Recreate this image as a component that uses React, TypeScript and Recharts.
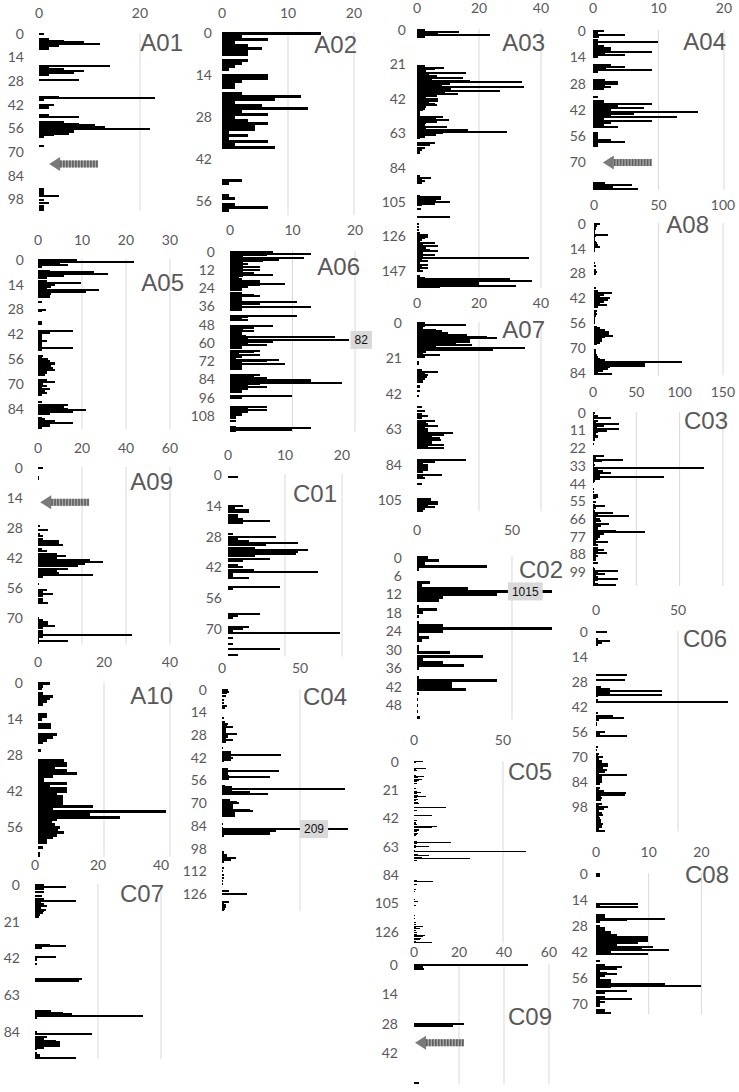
import React from "react";
import { BarChart, Bar, XAxis, YAxis, CartesianGrid, ReferenceDot } from "recharts";

// one value per row of each panel
const A01 = [1,0,0,2,5,9,12,4,2,2, 0,0,0,0,0,0,0,0,0,14, 2,5,9,7,2,0,0,8,0,0, 0,0,0,0,0,0,0,4,23,1, 0,0,3,2,2,0,0,0,2,8, 0,0,5,8,11,13,22,7,7,6, 3,1,0,0,0,0,1,0,0,0, 0,0,0,0,0,0,0,0,0,0, 0,0,0,0,0,0,0,0,0,0, 0,0,1,1,1,1,4,0,1,0, 2,0,1,1,1];
const A02 = [15,3,7,2,4,6,4,4,0,4, 3,2,1,0,7,7,3,2,2,0, 3,12,8,2,6,13,3,7,2,4, 7,5,5,1,4,1,7,2,8,0, 0,0,0,0,0,0,0,0,0,3, 1,0,0,0,1,2,0,2,7,1, 0];
const A03 = [2.6,13.7,6.9,23.5,2.6,0,0,0,0,0, 0,0,0,0,0,0,0,0,0,0, 0,0,2.6,8.7,5.8,3,15.8,4,6.3,14.7, 5,17,33.8,10.6,8,34.5,11,26.8,9,13.3, 6.3,3,6.9,6.9,4,5.8,6.3,3,2.6,2, 1,1,1,8.5,6,10.4,6.3,3,2.6,9.6, 3,16.6,28.9,8.5,6,2.6,1,0,0,5.8, 4.2,0,2.5,1.5,1,1,0,0,0,0, 0,0,0,0,0,0,0,0,0,1, 4.5,1.5,2.5,1.5,0,0,0,0,0,0, 0,1,7.6,7.6,6,10.6,5.8,1.5,0,1.2, 0,0,0,0,10.6,0,0,0,0.5,0, 0.5,0,0.5,0,1,3.7,3.7,2.6,1.5,1, 5.8,2,6.9,3,4.2,6.9,2,5.8,2,36, 1.5,3.7,1,3.7,1.5,3.7,1,2,0,0, 1,2.6,30,37,20,20,32,7.5];
const A04 = [1.7,0.8,4.9,0.9,0,0.8,9.9,0.8,1.7,2.8, 2.8,9,1.9,4.9,0.8,0,0,0,2.8,4.9, 2,9,0.8,0,0,0,1.8,3.8,3.8,1.8, 2.8,1.7,0,0,0,0.8,0,1.7,1.7,9, 3.8,7.8,2.8,16,6.3,2.8,12.9,1.7,9,2.8, 1.7,3.8,0,0,0.8,0.8,0.8,0.8,2.8,4.9, 0.8,0.8,0,0,0,0,0,0,0,0, 0,0,0,0,0,0,0,0,0,0, 0,1.8,5.9,3,6.8];
const A05 = [8.9,21.8,5,6.9,1,0,2.7,12.8,15.8,5.8, 2,0,2,9.8,3.9,3,2,13.9,10.9,3, 2.7,2.7,0,0,0.8,0,0,0,1.8,0.8, 0,0,0,0,0,0.8,0.8,0,0,0, 7.9,2.7,0.8,0.8,0.8,0.8,2,0.8,0.8,0.8, 7.9,0.8,0,0,1.2,0.8,2.3,2.7,3.9,3.9, 3,3.5,3.9,2,2,1.5,0,0,2,3.9, 1.2,2,1,2.7,1.5,2,1,0,0,0, 0.8,0,6.9,6,6.9,10.9,8,2.7,0,0.8, 1.5,3.9,7.9,2.7,2.7,1];
const A06 = [6.9,12.9,5.9,2,11.8,7.9,5.2,2,2.9,2, 4.8,2,4.8,2,3.8,6.8,2,1.5,1.9,4.8, 4.8,8.8,4.8,2.9,1.9,1.9,0,1.9,3.8,4.8, 1.9,1.9,1.9,10.8,4.8,1.9,12.9,1.9,1.9,0, 0,0,10.8,2.9,1.9,2.9,0,0,0,6.9, 3.8,2,3.8,1.9,1.9,2.5,16.8,2.9,19.1,6.9, 2.9,5.9,1.9,1.9,0,4.8,3.8,1.5,4.8,1.9, 1,7.9,5.9,1.9,8.8,1.9,1.9,1.9,0,0, 0,4.8,3.8,5.9,12.9,12.9,17.9,4.8,2.9,5.9, 2.9,1.9,1.9,0,0,9.9,1.9,0,0,0, 0,0,5.9,2.9,5.9,2.9,1.9,1.9,1,1, 0,1,0,0,0,1,12.9,9.9,1];
const A07 = [2.6,15.8,2.6,2,6,8,10,16,22.7,25.7, 17,17,12.6,17.6,6,34.8,24.6,3,2,7.4, 2.6,0,0,0.6,0.6,0,0,0,1.5,6.9, 2.5,3.7,3.1,2.6,2,2,0,1,1,0, 1,0,0,0.5,0,0,0,0,0,0, 1.5,0,2.6,0,1.5,3.7,1.5,0,5.8,3, 3.7,6.9,2.6,3.7,3.7,11.7,8.7,5,7.4,7.6, 4.7,4.7,8.7,3.7,8.7,0,0,0,0,0, 0,15.8,5.8,2,3.7,3.7,3.7,3.7,2,0, 8,2,2.6,0,0,1.5,0,0,0,0, 0,0,0,0,4.4,4.4,6.9,6.9,3.5,5.8, 2.6,2];
const A08 = [4.7,2,1.3,1.3,0.8,0.8,11,1.3,0.5,0.5, 1.3,2,2.8,4.7,0.8,0.5,0,0,0,0, 0,0,0.8,0,1.3,0,1.3,2,1.3,0, 0,0,0,0,0,0,1.3,0,3,14.2, 8,4.7,12.4,11,8,4.7,9.8,3,0,2, 1.3,2,1.3,0.8,0.8,0.8,0.8,0,2,4.7, 8.5,11.6,11.6,15,8.5,6,5.9,4.7,2,0, 0,1.3,1.3,1.3,2,3,4.7,8.5,68,39.5, 39.5,12.4,11,7,3,14.2];
const A09 = [2.4,0,0,0,0.6,0.6,0,0,0,0, 0,0,0,0,0,0,0,0,0,0, 0,0,0,0,0,0,0,1,0,4.7, 0,1,2.4,2.4,9.7,9.7,11.5,0,2,3.9, 8.5,12.6,8.5,23.6,29.7,21.4,18.3,13.8,8.5,9.7, 25,2.4,0,0,0.6,0,0,3.9,2.4,7, 2.4,2.4,2.4,4.7,0,0,0,0,0,0, 0.6,2.4,4.7,4.7,7.7,2.4,2.4,2.4,42.9,2.4, 0.6,13.8,0.6];
const A10 = [3.6,1.5,1.1,0,1.6,4.6,3.6,2.6,1.6,0, 0,0,2.6,2.6,1.1,0,3.8,3.8,0,0, 5.7,4.6,2.6,1.6,0,0,0.8,0,0,0, 7.9,8.7,8.7,5,8.7,11.9,4.6,1.8,1.8,8.7, 3.6,8.7,8.7,5.7,7.7,7.7,7.7,7.7,16.8,4.6, 38.8,15.8,24.8,5.7,4.1,5.2,6.7,6.2,7.9,5.7, 4.6,2.6,2.6,0,1.6,0,0.6,0.6];
const C01 = [0,1.8,0,0,0,0,0,0,0,0, 0,0,0,0,2.7,1.2,3.7,3.7,1.8,1.8, 2.7,7.4,2.7,0,0,0,0,0.8,8.4,1.8, 3.7,12.2,6.7,4.7,14.1,12.2,12,4.7,7.4,2.7, 0,1.8,2.7,4.6,15.8,0.9,0.9,3.7,0,0, 0,9.2,0.8,0,0,0,0,0,0,0, 0,0,0,5.6,1.8,0.8,0,0,0,3.7, 2.7,0.8,19.6,0,0.8,0,0,0.8,0,9.2, 0,0,1.8];
const C02 = [6,11.8,4.2,37,1.2,0,0,0,6.8,2.5, 27,71,42,13.5,11.8,0,1.2,10.4,3.3,1.2, 0,1.2,13.5,71,13.5,1.2,6.5,2.5,0,1.2, 1.2,17.4,34.6,3,13.5,24.7,1.2,0,0,0.8, 42,18.2,18.2,25.8,0.8,0,0.5,0,0.5,0, 0.5,0,1.5];
const C03 = [2.3,1,5.4,20.8,1,5.4,4,30,13,5, 30,15.8,6.2,4,5.4,6.2,2,2.3,0,1.5, 0,0,0,0,0,0,0,13,3,35, 10,1,2,1,128,5.4,12,20.8,8,8, 82,8,2,1,0,0,0,1,0,1.5, 0,6.2,6.2,4,0,4,0,2,13.8,4, 1.5,2,23.5,6.2,41.5,4,8,9,4,18.5, 9,6.2,6.2,27,60,13,8,8,6.2,4, 17,4,6.2,0,5.4,13,6,15.8,4,6.2, 4,3,0,5.4,0,0,1.5,2,28.5,5.4, 13.8,4,5.4,28.5,6.2,2,5.4,26];
const C04 = [4,4.7,3.4,0,2.6,0,1,0,1.3,0, 3.4,2,0,0,0,0,0,1.3,0,0, 2,4,3.4,6.8,2.6,2.6,2.6,9.4,4,4, 2.6,6.8,2.6,0,0,0,0.8,0,5.6,5.6, 37.6,5.6,7.3,5.6,1.5,0,0,0,0,4, 36.8,4,4,4.7,30.8,4.7,0,0,0,2, 6.2,78.8,6.2,18,29.7,0,0,0,5,9.4, 11,7.3,6.8,6.8,18,19.6,8.3,8.3,8.3,0, 0,0,0,0.8,0,0.8,81,34.6,30.8,30.8, 1,0,0,0,0,0,0,0,0,0, 1,1.5,3.4,3.4,9,5.6,1,0,0,0, 1,0,0.8,0,1,0,1.3,0,0.8,0, 0.5,0,0,0,4.7,0,15.8,0,0,0, 0,4.7,1.5,2.5,2.5,2,1.5];
const C05 = [4.9,1,0,0,0,6.7,1,1.5,0,0, 1,5.6,2,4.3,3,1.5,1.5,0,0,0, 1,0,1.5,3.7,1.5,2,6.7,1.5,2.4,1, 2.4,3,0,0,18,0,1.5,0,0,0, 9.9,0,0,0,1.5,1,1,1.5,12.7,9.9, 3,3,1.5,2.4,1.5,1,0,0,0,1.5, 20.6,1.5,1,8.6,1,0,0.5,63,0,2, 8.6,4.3,31.5,1.5,0,0,0,0,0,0, 0,0,0,0,0,0,0,0,1.5,10.5, 0,1.5,0,0,0,1,0.5,0,0,0, 0,0,0.5,0,2.4,0,0,1,0,0, 0,0,0,0,0.5,0,0.5,0,0,1, 0,1,4.9,1,3.4,1,0,1.5,1.5,6.2, 5.2,4,3.4,1,9.9];
const C06 = [6.5,0,0,0,1.5,8.5,3.5,1,0,0, 0,0,0,0,0,0,0,0,0,0, 0,0,0,0,18.7,0,0,17.7,0,0, 0,3,8.5,40.4,8.5,40.4,1,0,1.5,80.3, 0,0,0,0,0,1,0,10.6,17.3,2, 0,0.5,0.5,0,0,0,5.5,2.4,18.7,0, 0,0,0,0,1,0,0.5,0,1.8,1, 4.5,2,3.5,3.5,7.1,7.1,4,6.5,5.5,2, 18.7,3.5,3.5,3.5,3.5,2.4,0,2.4,2,5, 18,17.7,3,3.5,3,0,3.5,2,7.1,5, 2,3.5,4.5,2,2.4,3,3,4.5,3.5,3.5, 2,5.5];
const C07 = [2.9,10,2.9,0,2.7,0,2.2,0,2.9,12.9, 2,2.7,3.8,2,3.5,2.7,2.5,1.6,1.4,0, 0,0,0,0,0,0,0,0,0,0, 0,0,0,0,4.8,10,2.2,0,0,0, 0,6.8,0.5,0.5,0,0.5,0,0,0,0, 0,0,0,0,15,14,0,0,0,0, 0,0,0,0,0,0,0,0,0,0, 0,0,5,8.9,11.8,34.4,0.5,0,0,0, 0,0,0,0,0.5,18,0,3.8,2.7,6.8, 7.8,7.8,7.8,2.7,0.5,0,0.5,1.6,1.6,12.9];
const C08 = [0.8,0.8,0,0,0,0,0,0,0,0, 0,0,0,0,0,0,7.9,0.8,7.9,0, 0,0,1.8,1.8,13,5.8,0.8,0,0.8,1.8, 1.8,2.8,2.8,4,9.8,9.8,9.8,7.9,3.9,10.9, 8.8,13.9,2.8,9.8,0,0,0,0.8,0,1.8, 4.9,3.9,0.8,2,3.9,1.8,0.8,2.8,2.8,13, 19.9,2.8,0,5.8,1.8,0,1.8,6.9,0.8,1.8, 0.8,0.8,0,1.8,1.8,2.8];
const C09 = [50.5,3.9,4.4,0,0,0,0,0,0,0, 0,0,0,0,0,0,0,0,0,0, 0,0,0,0,0,0,0,0,22.2,17.2, 0,0,0,0,0,0,0,0,0,0, 0,0,0,0,0,0,0,0,0,0, 0,0,0,0,0,0,2];

// axis tick labels
const T_0_20 = [0, 20];
const T_0_10_20 = [0, 10, 20];
const T_0_10_20_30 = [0, 10, 20, 30];
const T_0_20_40 = [0, 20, 40];
const T_0_20_40_60 = [0, 20, 40, 60];
const T_0_50 = [0, 50];
const T_0_50_100 = [0, 50, 100];
const T_0_50_100_150 = [0, 50, 100, 150];

type Panel = {
  name: string;
  values: number[];
  ticks: number[];
  max: number;
  x0: number;
  top: number;
  rowPx: number;
  pxu: number;
  yStep: number;
  yLast?: number;
  xGap: number;
  yGap: number;
  title: [number, number];
  arrow?: { row: number; x: number };
  tag?: { row: number; x: number; text: string };
};

const PANELS: Panel[] = [
  { name: "A01", values: A01, ticks: T_0_20, max: 30, x0: 39, top: 33.2, rowPx: 1.69, pxu: 5.05, yStep: 14, xGap: 20, yGap: 9, title: [183, 51], arrow: { row: 77, x: 2 } },
  { name: "A05", values: A05, ticks: T_0_10_20_30, max: 34, x0: 38, top: 259.1, rowPx: 1.77, pxu: 4.4, yStep: 14, xGap: 19, yGap: 8, title: [184, 291] },
  { name: "A09", values: A09, ticks: T_0_20_40_60, max: 68, x0: 38, top: 466.9, rowPx: 2.14, pxu: 2.2, yStep: 14, xGap: 19, yGap: 9, title: [173, 490], arrow: { row: 16, x: 1 } },
  { name: "A10", values: A10, ticks: T_0_20_40, max: 45, x0: 38, top: 681.7, rowPx: 2.57, pxu: 3.3, yStep: 14, xGap: 20, yGap: 9, title: [173, 704] },
  { name: "C07", values: C07, ticks: T_0_20_40, max: 47, x0: 35, top: 884.1, rowPx: 1.75, pxu: 3.15, yStep: 21, xGap: 19, yGap: 9, title: [164, 902] },
  { name: "A02", values: A02, ticks: T_0_10_20, max: 22, x0: 222, top: 31.5, rowPx: 3.0, pxu: 6.6, yStep: 14, xGap: 18.5, yGap: 4, title: [357, 53] },
  { name: "A06", values: A06, ticks: T_0_10_20, max: 22.5, x0: 230, top: 251.2, rowPx: 1.52, pxu: 6.25, yStep: 12, xGap: 21, yGap: 9, title: [360, 275], tag: { row: 58, x: 21, text: "82" } },
  { name: "C01", values: C01, ticks: T_0_10_20, max: 21, x0: 228, top: 473.9, rowPx: 2.2, pxu: 5.7, yStep: 14, xGap: 19, yGap: 0, title: [337, 502] },
  { name: "C04", values: C04, ticks: T_0_50, max: 81, x0: 222, top: 689.2, rowPx: 1.62, pxu: 1.56, yStep: 14, xGap: 21, yGap: 9, title: [347, 705], tag: { row: 86, x: 59, text: "209" } },
  { name: "A03", values: A03, ticks: T_0_20_40, max: 42, x0: 417, top: 29.2, rowPx: 1.64, pxu: 3.1, yStep: 21, xGap: 21, yGap: 5, title: [545, 51] },
  { name: "A07", values: A07, ticks: T_0_20_40, max: 42, x0: 417, top: 322.2, rowPx: 1.69, pxu: 3.1, yStep: 21, xGap: 19, yGap: 9, title: [545, 338] },
  { name: "C02", values: C02, ticks: T_0_50, max: 71.5, x0: 417, top: 555.5, rowPx: 3.08, pxu: 1.9, yStep: 6, xGap: 25.5, yGap: 9, title: [563, 578], tag: { row: 11, x: 57, text: "1015" } },
  { name: "C05", values: C05, ticks: T_0_50, max: 76, x0: 414, top: 761.3, rowPx: 1.35, pxu: 1.78, yStep: 21, xGap: 21, yGap: 9, title: [552, 780] },
  { name: "C09", values: C09, ticks: T_0_20_40_60, max: 62, x0: 414, top: 964, rowPx: 2.1, pxu: 2.25, yStep: 14, yLast: 42, xGap: 12, yGap: 10, title: [552, 1025], arrow: { row: 37, x: 0.45 } },
  { name: "A04", values: A04, ticks: T_0_10_20, max: 21.5, x0: 593, top: 30, rowPx: 1.88, pxu: 6.55, yStep: 14, yLast: 70, xGap: 22, yGap: 1, title: [726, 50], arrow: { row: 70, x: 1.5 } },
  { name: "A08", values: A08, ticks: T_0_50_100, max: 110, x0: 594, top: 223.1, rowPx: 1.77, pxu: 1.29, yStep: 14, xGap: 18, yGap: 2, title: [709, 233] },
  { name: "C03", values: C03, ticks: T_0_50_100_150, max: 165, x0: 593, top: 412.2, rowPx: 1.61, pxu: 0.866, yStep: 11, xGap: 20, yGap: 1, title: [728, 429] },
  { name: "C06", values: C06, ticks: T_0_50, max: 86, x0: 596, top: 631.1, rowPx: 1.79, pxu: 1.64, yStep: 14, xGap: 21, yGap: 2, title: [727, 647] },
  { name: "C08", values: C08, ticks: T_0_10_20, max: 26, x0: 596, top: 873.1, rowPx: 1.86, pxu: 5.27, yStep: 14, xGap: 21, yGap: 2, title: [729, 883] },
];

const YW = 46;
const XH = 42;
const RM = 14;
const tickStyle = { fill: "#595959", fontSize: 14, fontFamily: "Lato" };

function Arrow(props: any) {
  const { cx, cy } = props;
  const stripes = [];
  for (let i = 0; i < 13; i++) {
    stripes.push(<rect key={i} x={cx + 11 + i * 3} y={cy - 3.5} width={1.6} height={7} fill="#5f5f5f" />);
  }
  return (
    <g>
      <polygon points={`${cx},${cy} ${cx + 11},${cy - 7} ${cx + 11},${cy + 7}`} fill="#7a7a7a" />
      <rect x={cx + 11} y={cy - 3.5} width={38} height={7} fill="#a6a6a6" />
      {stripes}
    </g>
  );
}

function Tag(props: any) {
  const { cx, cy, text } = props;
  const w = text.length * 6.7 + 8;
  return (
    <g>
      <rect x={cx - w / 2} y={cy - 9} width={w} height={18} fill="#d9d9d9" />
      <text x={cx} y={cy} dy="0.36em" textAnchor="middle" fontSize={12} fontFamily="Liberation Sans" fill="#111">
        {text}
      </text>
    </g>
  );
}

function PanelChart({ p }: { p: Panel }) {
  const data = p.values.map((v, r) => ({ r, v }));
  const plotH = data.length * p.rowPx;
  const plotW = p.max * p.pxu;
  const last = p.yLast ?? Infinity;
  return (
    <div style={{ position: "absolute", left: p.x0 - YW, top: p.top - XH }}>
      <BarChart
        layout="vertical"
        width={YW + plotW + RM}
        height={XH + plotH + 4}
        data={data}
        margin={{ top: 0, right: RM, bottom: 4, left: 0 }}
        barCategoryGap={0}
      >
        <CartesianGrid horizontal={false} verticalValues={p.ticks.filter((t) => t > 0)} stroke="#d9d9d9" />
        <XAxis
          type="number"
          orientation="top"
          domain={[0, p.max]}
          ticks={p.ticks}
          interval={0}
          allowDataOverflow
          height={XH}
          tickLine={false}
          axisLine={false}
          tick={tickStyle}
          tickMargin={p.xGap - 11}
        />
        <YAxis
          type="category"
          dataKey="r"
          width={YW}
          interval={p.yStep - 1}
          tickLine={false}
          axisLine={false}
          tick={tickStyle}
          tickMargin={p.yGap}
          tickFormatter={(v: number) => (v <= last ? String(v) : "")}
        />
        <Bar dataKey="v" fill="#000" shapeRendering="crispEdges" isAnimationActive={false} />
        {p.arrow && <ReferenceDot x={p.arrow.x} y={p.arrow.row} shape={(s: any) => <Arrow {...s} />} />}
        {p.tag && <ReferenceDot x={p.tag.x} y={p.tag.row} shape={(s: any) => <Tag {...s} text={p.tag!.text} />} />}
      </BarChart>
    </div>
  );
}

export default function App() {
  return (
    <div style={{ position: "absolute", left: 0, top: 0, width: 739, height: 1092, background: "#fff", overflow: "hidden" }}>
      {PANELS.map((p) => (
        <PanelChart key={p.name} p={p} />
      ))}
      <svg width={739} height={1092} style={{ position: "absolute", left: 0, top: 0, pointerEvents: "none" }}>
        {PANELS.map((p) => (
          <text key={p.name} x={p.title[0]} y={p.title[1]} textAnchor="end" fontSize={24} fontFamily="Liberation Sans" fill="#595959">
            {p.name}
          </text>
        ))}
      </svg>
    </div>
  );
}
